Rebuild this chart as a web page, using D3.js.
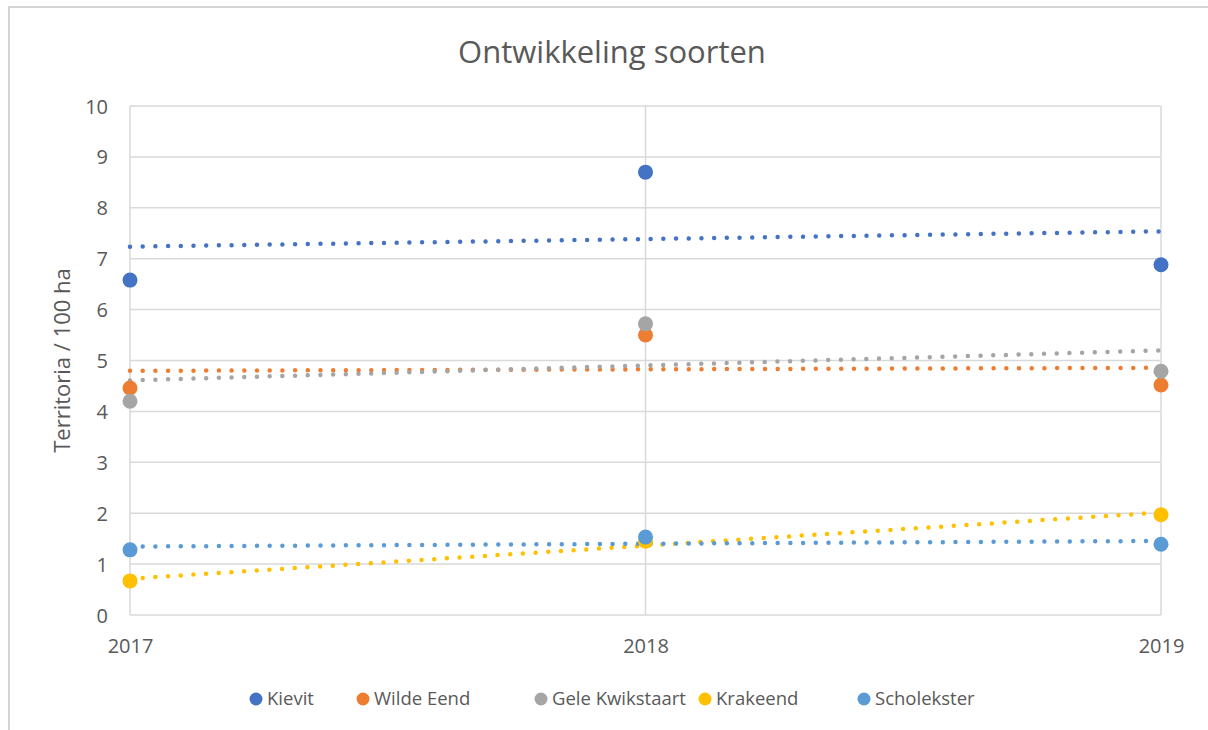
<!DOCTYPE html>
<html>
<head>
<meta charset="utf-8">
<script src="https://cdn.jsdelivr.net/npm/d3@7"></script>
<style>
  body { margin: 0; background: #fff; }
  svg text { font-family: "Open Sans", "Noto Sans", sans-serif; fill: #595959; }
</style>
</head>
<body>
<svg id="chart"></svg>
<script>
const years = [2017, 2018, 2019];
const seriesNames = ["Kievit", "Wilde Eend", "Gele Kwikstaart", "Krakeend", "Scholekster"];
const colors = ["#4472C4", "#ED7D31", "#A5A5A5", "#FFC000", "#5B9BD5"];
const kievit = [6.58, 8.70, 6.88];
const wildeEend = [4.46, 5.50, 4.52];
const geleKwikstaart = [4.20, 5.72, 4.79];
const krakeend = [0.67, 1.45, 1.97];
const scholekster = [1.28, 1.53, 1.39];
const yTicks = [0, 1, 2, 3, 4, 5, 6, 7, 8, 9, 10];

const values = [kievit, wildeEend, geleKwikstaart, krakeend, scholekster];

const W = 1208, H = 730;
const margin = {top: 106, right: 47, bottom: 115, left: 130},
    width = W - margin.left - margin.right,
    height = H - margin.top - margin.bottom;

const root = d3.select("#chart").attr("width", W).attr("height", H);

// outer chart frame
root.append("rect")
    .attr("x", 9).attr("y", 7)
    .attr("width", W + 20).attr("height", H + 20)
    .attr("fill", "none")
    .attr("stroke", "#d4d4d4")
    .attr("stroke-width", 2);

root.append("text")
    .attr("x", 612).attr("y", 63)
    .attr("text-anchor", "middle")
    .style("font-size", "31px")
    .text("Ontwikkeling soorten");

const svg = root.append("g")
    .attr("transform", `translate(${margin.left},${margin.top})`);

const x = d3.scaleLinear().domain([2017, 2019]).range([0, width]);
const y = d3.scaleLinear().domain([0, 10]).range([height, 0]);

// horizontal gridlines
svg.append("g")
    .selectAll("line")
    .data(yTicks)
    .enter().append("line")
    .attr("x1", 0).attr("x2", width)
    .attr("y1", d => y(d)).attr("y2", d => y(d))
    .attr("stroke", "#d9d9d9")
    .attr("stroke-width", 1.5);

// vertical gridlines
svg.append("g")
    .selectAll("line")
    .data(years)
    .enter().append("line")
    .attr("x1", d => x(d)).attr("x2", d => x(d))
    .attr("y1", 0).attr("y2", height)
    .attr("stroke", "#d9d9d9")
    .attr("stroke-width", 1.5);

const yAxis = svg.append("g")
    .call(d3.axisLeft(y).tickValues(yTicks).tickSize(0).tickPadding(22));
yAxis.select(".domain").remove();
yAxis.selectAll("text").style("font-size", "20px").attr("dy", "0.35em");

const xAxis = svg.append("g")
    .attr("transform", `translate(0,${height})`)
    .call(d3.axisBottom(x).tickValues(years).tickFormat(d3.format("d")).tickSize(0).tickPadding(24));
xAxis.select(".domain").remove();
xAxis.selectAll("text").style("font-size", "20px");

root.append("text")
    .attr("transform", `translate(70,${margin.top + height / 2}) rotate(-90)`)
    .attr("text-anchor", "middle")
    .style("font-size", "22px")
    .text("Territoria / 100 ha");

// linear trendlines (least squares over the data)
function trend(vals) {
  const mx = d3.mean(years), my = d3.mean(vals);
  const num = d3.sum(years, (xv, i) => (xv - mx) * (vals[i] - my));
  const den = d3.sum(years, xv => (xv - mx) ** 2);
  const b = num / den;
  return [[2017, my + b * (2017 - mx)], [2019, my + b * (2019 - mx)]];
}

const line = d3.line().x(d => x(d[0])).y(d => y(d[1]));

values.forEach((vals, i) => {
  svg.append("path")
      .datum(trend(vals))
      .attr("d", line)
      .attr("fill", "none")
      .attr("stroke", colors[i])
      .attr("stroke-width", 4.5)
      .attr("stroke-linecap", "round")
      .attr("stroke-dasharray", "0,12.7");
});

values.forEach((vals, i) => {
  svg.append("g")
      .selectAll("circle")
      .data(vals)
      .enter().append("circle")
      .attr("cx", (d, j) => x(years[j]))
      .attr("cy", d => y(d))
      .attr("r", 7.5)
      .attr("fill", colors[i]);
});

// legend
const legendX = [256, 363, 541, 705, 864];
const legend = root.append("g").attr("transform", "translate(0,699)");
seriesNames.forEach((name, i) => {
  legend.append("circle")
      .attr("cx", legendX[i]).attr("cy", 0).attr("r", 6.5)
      .attr("fill", colors[i]);
  legend.append("text")
      .attr("x", legendX[i] + 11).attr("y", 0)
      .attr("dy", "0.35em")
      .style("font-size", "18.5px")
      .text(name);
});
</script>
</body>
</html>
